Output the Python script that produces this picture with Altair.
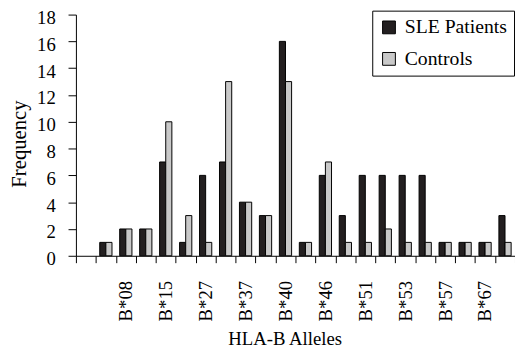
import altair as alt
import pandas as pd

categories = [" ", "B*07", "B*08", "B*13", "B*15", "B*18", "B*27", "B*35", "B*37", "B*39",
              "B*40", "B*41", "B*46", "B*49", "B*51", "B*52", "B*53", "B*55", "B*57", "B*58",
              "B*67", "B*73"]
sle_patients = [None, 1, 2, 2, 7, 1, 6, 7, 4, 3, 16, 1, 6, 3, 6, 6, 6, 6, 1, 1, 1, 3]
controls = [None, 1, 2, 2, 10, 3, 1, 13, 4, 3, 13, 1, 7, 1, 1, 2, 1, 1, 1, 1, 1, 1]
shown_labels = ["B*08", "B*15", "B*27", "B*37", "B*40", "B*46", "B*51", "B*53", "B*57", "B*67"]
series = ["SLE Patients", "Controls"]
y_ticks = [0, 2, 4, 6, 8, 10, 12, 14, 16, 18]

rows = []
for c, a, b in zip(categories, sle_patients, controls):
    if a is not None:
        rows.append({"allele": c, "series": series[0], "freq": a})
    if b is not None:
        rows.append({"allele": c, "series": series[1], "freq": b})
df = pd.DataFrame(rows)

FONT = "Liberation Serif"
label_list = ",".join("'" + s + "'" for s in shown_labels)

chart = alt.Chart(df).mark_bar(stroke="black", strokeWidth=1).encode(
    x=alt.X(
        "allele:N",
        sort=categories,
        scale=alt.Scale(domain=categories, paddingInner=0, paddingOuter=0),
        axis=alt.Axis(
            title="HLA-B Alleles",
            labelExpr="indexof([" + label_list + "], datum.value) >= 0 ? datum.value : ''",
            labelAngle=270,
            labelAlign="right",
            labelBaseline="middle",
            labelPadding=18,
            labelFontSize=19,
            labelOverlap=False,
            labelColor="black",
            tickBand="extent",
            tickSize=7,
            tickColor="black",
            domainColor="black",
            titleFontSize=19,
            titleFontWeight="normal",
            titleColor="black",
            titleX=212,
            titleY=90,
            titleAlign="center",
            titleBaseline="alphabetic",
        ),
    ),
    xOffset=alt.XOffset(
        "series:N",
        sort=series,
        scale=alt.Scale(domain=series, paddingInner=0, paddingOuter=0.63),
    ),
    y=alt.Y(
        "freq:Q",
        scale=alt.Scale(domain=[0, 18], nice=False),
        axis=alt.Axis(
            title="Frequency",
            values=y_ticks,
            grid=False,
            tickSize=8,
            tickColor="black",
            domainColor="black",
            labelFontSize=19,
            labelPadding=13,
            labelOffset=3,
            labelColor="black",
            titleFontSize=21,
            titleFontWeight="normal",
            titleColor="black",
            titleX=-51,
            titleY=131,
            titleAlign="center",
            titleBaseline="alphabetic",
        ),
    ),
    color=alt.Color(
        "series:N",
        sort=series,
        scale=alt.Scale(domain=series, range=["#231f20", "#c9c9c9"]),
        legend=alt.Legend(
            title=None,
            orient="none",
            legendX=301,
            legendY=-4,
            padding=7,
            rowPadding=12,
            strokeColor="black",
            fillColor="white",
            symbolType="square",
            symbolSize=169,
            symbolStrokeColor="black",
            symbolStrokeWidth=1,
            symbolOpacity=1,
            labelFontSize=20,
            labelOffset=6,
            labelColor="black",
        ),
    ),
).properties(
    width=446,
    height=245,
    autosize=alt.AutoSizeParams(type="none"),
    padding={"left": 69, "top": 4, "right": 0, "bottom": 92},
).configure(font=FONT).configure_view(strokeWidth=0)

chart.save("out.html", embed_options={"renderer": "svg", "actions": False})
